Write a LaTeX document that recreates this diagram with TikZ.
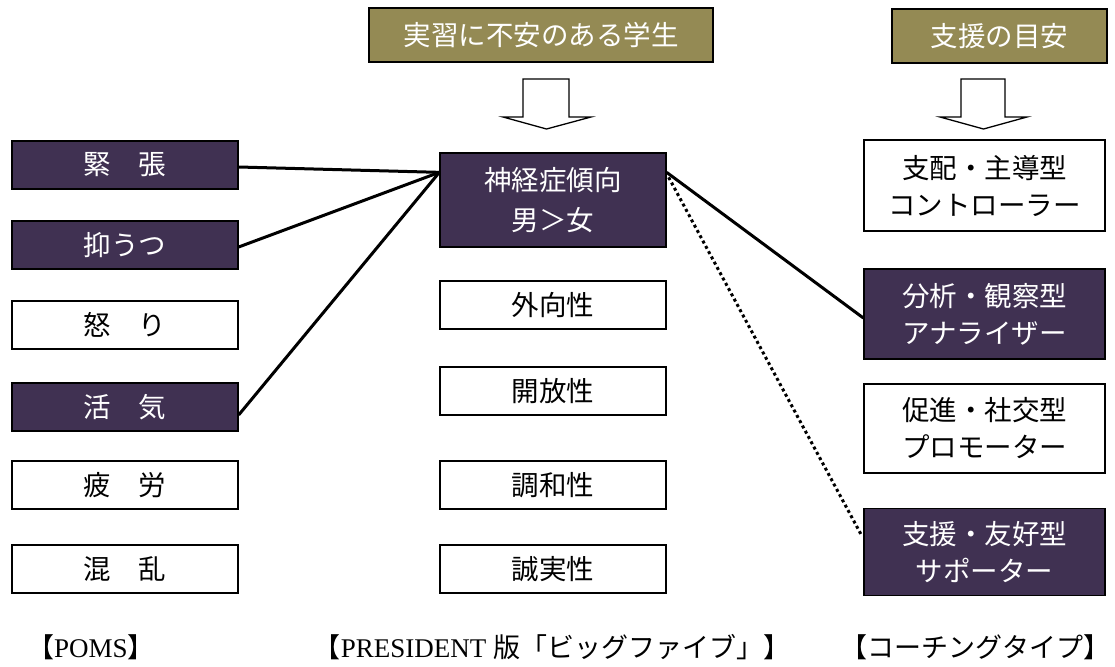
\documentclass[tikz,border=0pt]{standalone}
\usepackage{fontspec}
\setmainfont{Liberation Serif}
\newfontfamily\jp{Noto Sans CJK JP}
\usetikzlibrary{calc}
\definecolor{olivebox}{HTML}{948A54}
\definecolor{purplebox}{HTML}{403152}
\begin{document}
\begin{tikzpicture}[x=1pt,y=-1pt,
  box/.style={draw=black, line width=1.3pt, minimum width=226pt, minimum height=48pt, inner sep=0pt,
              font=\jp\fontsize{27.5}{40}\selectfont, align=center},
  dark/.style={box, fill=purplebox, text=white},
  light/.style={box, fill=white, text=black},
  rbox/.style={minimum width=241pt, font=\jp\fontsize{27.5}{37}\selectfont},
  head/.style={box, fill=olivebox, text=white, minimum height=54pt},
  link/.style={line width=3pt},
  dotlink/.style={line width=3pt, dash pattern=on 3pt off 3pt},
  blockarrow/.style={draw=black, fill=white, line width=1.3pt, line join=miter},
  bottomtext/.style={inner sep=0pt, font=\fontsize{27}{32}\selectfont}
]
\useasboundingbox (0,0) rectangle (1115,666);

% header boxes
\node[head, minimum width=344pt] (student) at (541,35) {実習に不安のある学生};
\node[head, minimum width=215pt] (guide) at (999.5,36) {支援の目安};

% block arrows
\draw[blockarrow] (523,79) -- (569,79) -- (569,117) -- (591,117) -- (546.5,129) -- (503,117) -- (523,117) -- cycle;
\draw[blockarrow] (961,79) -- (1005,79) -- (1005,117) -- (1027,117) -- (983.5,129) -- (940,117) -- (961,117) -- cycle;

% left column (POMS)
\node[dark]  (kincho)   at (125,165) {緊　張};
\node[dark]  (yokuutsu) at (125,245) {抑うつ};
\node[light] (ikari)    at (125,325) {怒　り};
\node[dark]  (kakki)    at (125,407) {活　気};
\node[light] (hirou)    at (125,485) {疲　労};
\node[light] (konran)   at (125,569) {混　乱};

% center column (Big Five)
\node[dark, minimum height=94pt] (shinkei) at (553,200) {神経症傾向\\男＞女};
\node[light] (gaikou)  at (553,305) {外向性};
\node[light] (kaihou)  at (553,391) {開放性};
\node[light] (chouwa)  at (553,485) {調和性};
\node[light] (seijitsu) at (553,569) {誠実性};

% right column (coaching types)
\node[light, rbox, minimum height=91pt] (shihai)  at (984.5,185.5) {支配・主導型\\コントローラー};
\node[dark,  rbox, minimum height=90pt] (bunseki) at (984.5,314) {分析・観察型\\アナライザー};
\node[light, rbox, minimum height=89pt] (sokushin) at (984.5,428.5) {促進・社交型\\プロモーター};
\node[dark,  rbox, minimum height=87pt] (shien)   at (984.5,552) {支援・友好型\\サポーター};

% connectors
\coordinate (cL) at ($(shinkei.north west)+(0,20)$);
\coordinate (cR) at ($(shinkei.north east)+(0,20)$);
\draw[link] ($(kincho.east)+(0,2)$) -- (cL);
\draw[link] ($(yokuutsu.east)+(0,2)$) -- (cL);
\draw[link] ($(kakki.east)+(0,8)$) -- (cL);
\draw[link] (cR) -- ($(bunseki.west)+(0,4)$);
\draw[dotlink] ($(shinkei.north east)+(2,25)$) -- ($(shien.west)+(-2,-17)$);

% bottom labels
\node[bottomtext] (poms) at (91,647) {{\jp 【}POMS{\jp 】}};
\node[bottomtext] (bigfive) at (552,647) {{\jp 【}PRESIDENT {\jp 版「ビッグファイブ」】}};
\node[bottomtext, anchor=east] (coach) at (1111,647) {{\jp 【コーチングタイプ】}};
\end{tikzpicture}
\end{document}
